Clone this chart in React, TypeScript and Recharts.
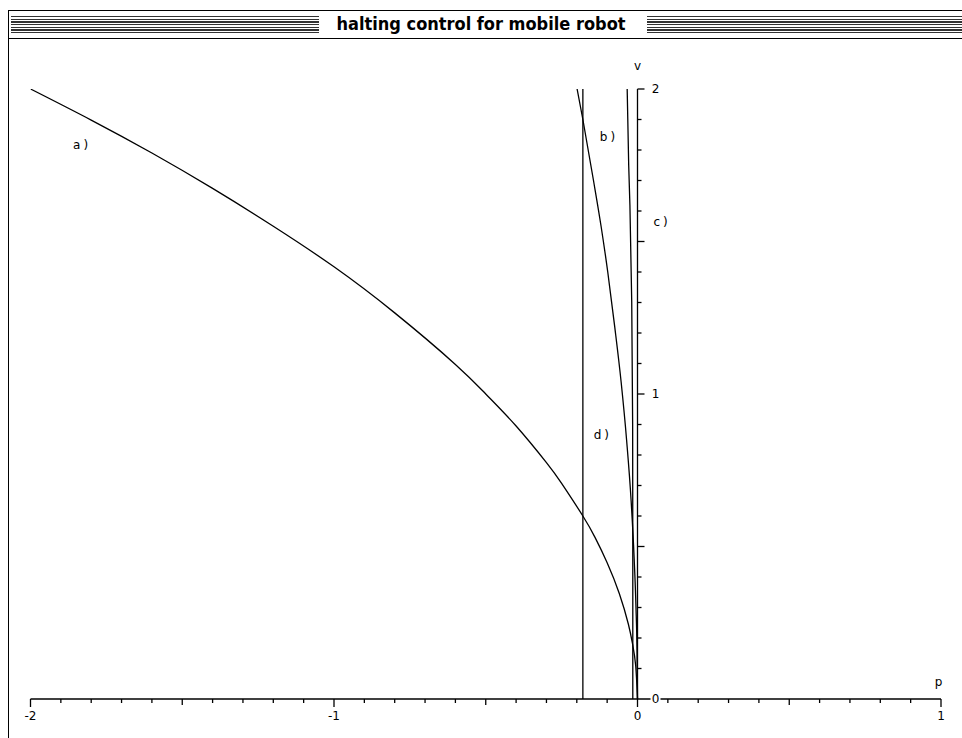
import { ComposedChart, Line, XAxis, YAxis, ReferenceLine, ReferenceDot } from 'recharts';

const W = 962;
const H = 738;
const INK = '#000';
const FONT = '"DejaVu Sans", sans-serif';

// curve a): slow braking from p = -2
const curveA = [
  [-2.0, 2.0], [-1.8, 1.898], [-1.6, 1.79], [-1.4, 1.674], [-1.2, 1.55], [-1.0, 1.417],
  [-0.8, 1.266], [-0.6, 1.097], [-0.5, 1.0], [-0.4, 0.895], [-0.3, 0.775], [-0.25, 0.707],
  [-0.18, 0.6], [-0.14, 0.53], [-0.1, 0.447], [-0.06, 0.346], [-0.03, 0.245],
  [-0.016, 0.179], [-0.006, 0.11], [0, 0],
].map(([p, v]) => ({ p, v }));

// curve b)
const curveB = [
  [-0.199, 2.0], [-0.18, 1.9], [-0.145, 1.7], [-0.12, 1.55], [-0.098, 1.4], [-0.075, 1.22],
  [-0.054, 1.04], [-0.036, 0.85], [-0.021, 0.65], [-0.011, 0.46], [-0.005, 0.3],
  [-0.0015, 0.15], [0, 0],
].map(([p, v]) => ({ p, v }));

// curve c), almost on the v axis
const curveC = [
  [-0.034, 2.0], [-0.029, 1.75], [-0.025, 1.62], [-0.019, 1.3], [-0.016, 0.9],
  [-0.0155, 0.45], [-0.0155, 0],
].map(([p, v]) => ({ p, v }));

// d) vertical switching line
const lineD = [
  [-0.18, 2.0], [-0.18, 0],
].map(([p, v]) => ({ p, v }));

const xTicks = [
  -2, -1.9, -1.8, -1.7, -1.6, -1.5, -1.4, -1.3, -1.2, -1.1,
  -1, -0.9, -0.8, -0.7, -0.6, -0.5, -0.4, -0.3, -0.2, -0.1,
  0, 0.1, 0.2, 0.3, 0.4, 0.5, 0.6, 0.7, 0.8, 0.9, 1,
];
const xLabels = [-2, -1, 0, 1];

const yTicks = [
  0.1, 0.2, 0.3, 0.4, 0.5, 0.6, 0.7, 0.8, 0.9, 1,
  1.1, 1.2, 1.3, 1.4, 1.5, 1.6, 1.7, 1.8, 1.9, 2,
];
const yLabels = [0, 1, 2];

const curveLabels = [
  { text: 'a)', p: -1.83, v: 1.816 },
  { text: 'b)', p: -0.094, v: 1.843 },
  { text: 'c)', p: 0.081, v: 1.564 },
  { text: 'd)', p: -0.114, v: 0.866 },
  { text: 'p', p: 0.997, v: 0.055 },
];

const near = (a: number, b: number) => Math.abs(a - b) < 1e-6;
const tickLen = (v: number) => (near(v, Math.round(v)) ? 8 : near(v * 2, Math.round(v * 2)) ? 6 : 4);

function XTick(props: any) {
  const { x, y, payload } = props;
  const v = payload.value;
  const label = xLabels.some((l) => near(l, v));
  return (
    <g>
      <line x1={x} y1={y} x2={x} y2={y + tickLen(v)} stroke={INK} strokeWidth={1.3} />
      {label && (
        <text x={x} y={y + 17} textAnchor="middle" dominantBaseline="central" fontFamily={FONT} fontSize={12} fill={INK}>
          {v < 0 ? `-${Math.abs(v)}` : String(v)}
        </text>
      )}
    </g>
  );
}

function stripes(left: number, width: number) {
  return (
    <div
      style={{
        position: 'absolute',
        left,
        top: 16,
        width,
        height: 17.3,
        background: 'repeating-linear-gradient(to bottom, #333 0px, #333 1.3px, #fff 1.3px, #fff 2.667px)',
      }}
    />
  );
}

export default function App() {
  return (
    <div style={{ position: 'absolute', left: 0, top: 0, width: W, height: H, background: '#fff', overflow: 'hidden' }}>
      <div style={{ position: 'absolute', left: 8, top: 10, width: W - 8, height: 1.3, background: INK }} />
      <div style={{ position: 'absolute', left: 8, top: 10, width: 1.3, height: H - 10, background: INK }} />
      <div style={{ position: 'absolute', left: 8, top: 38, width: W - 8, height: 1.3, background: INK }} />
      {stripes(11, 308)}
      {stripes(647, W - 647)}
      <div
        style={{
          position: 'absolute',
          left: 0,
          top: 13,
          width: W,
          height: 22,
          lineHeight: '22px',
          textAlign: 'center',
          fontFamily: '"DejaVu Sans Condensed", "DejaVu Sans", sans-serif',
          fontWeight: 'bold',
          fontSize: 18,
          color: INK,
        }}
      >
        halting control for mobile robot
      </div>

      <div style={{ position: 'absolute', left: 0, top: 0 }}>
        <ComposedChart width={W} height={H} margin={{ top: 89, right: 21, bottom: 9, left: 30.5 }}>
          <XAxis
            type="number"
            dataKey="p"
            domain={[-2, 1]}
            ticks={xTicks}
            interval={0}
            allowDataOverflow
            tickSize={0}
            tickMargin={0}
            tickLine={false}
            tick={<XTick />}
            axisLine={{ stroke: INK, strokeWidth: 1.3 }}
            height={30}
          />
          <YAxis type="number" dataKey="v" domain={[0, 2]} hide allowDataOverflow />

          <ReferenceLine
            x={0}
            stroke={INK}
            strokeWidth={1.3}
            label={{ value: 'v', position: 'top', offset: 19, fontFamily: FONT, fontSize: 12, fill: INK }}
          />
          {yTicks.map((v) => (
            <ReferenceDot
              key={`yt${v}`}
              x={0}
              y={v}
              r={0}
              ifOverflow="visible"
              shape={(s: any) => (
                <line
                  x1={s.cx}
                  y1={s.cy}
                  x2={s.cx + (near(v * 2, Math.round(v * 2)) ? 7 : 4)}
                  y2={s.cy}
                  stroke={INK}
                  strokeWidth={1.3}
                />
              )}
            />
          ))}
          {yLabels.map((v) => (
            <ReferenceDot
              key={`yl${v}`}
              x={0}
              y={v}
              r={0}
              ifOverflow="visible"
              shape={(s: any) => (
                <g>
                  {v === 0 && <rect x={s.cx + 13} y={s.cy - 6} width={10} height={12} fill="#fff" />}
                  <text x={s.cx + 18} y={s.cy} textAnchor="middle" dominantBaseline="central" fontFamily={FONT} fontSize={12} fill={INK}>
                    {v}
                  </text>
                </g>
              )}
            />
          ))}

          <Line data={curveA} dataKey="v" type="natural" stroke={INK} strokeWidth={1.3} dot={false} isAnimationActive={false} />
          <Line data={curveB} dataKey="v" type="monotone" stroke={INK} strokeWidth={1.3} dot={false} isAnimationActive={false} />
          <Line data={curveC} dataKey="v" type="linear" stroke={INK} strokeWidth={1.3} dot={false} isAnimationActive={false} />
          <Line data={lineD} dataKey="v" type="linear" stroke={INK} strokeWidth={1.3} dot={false} isAnimationActive={false} />

          {curveLabels.map((l) => (
            <ReferenceDot
              key={l.text}
              x={l.p}
              y={l.v}
              r={0}
              ifOverflow="visible"
              shape={(s: any) => (
                <text x={s.cx} y={s.cy} textAnchor="middle" dominantBaseline="central" fontFamily={FONT} fontSize={12} letterSpacing={3} fill={INK}>
                  {l.text}
                </text>
              )}
            />
          ))}
        </ComposedChart>
      </div>
    </div>
  );
}
